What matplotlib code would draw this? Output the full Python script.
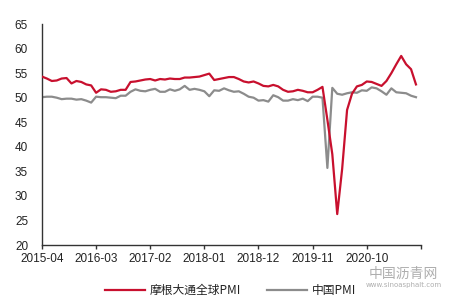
import matplotlib
matplotlib.use("Agg")
import matplotlib.pyplot as plt
import numpy as np

# Month index 0 = 2015-04 ... 76 = 2021-08
jpm_global_pmi = [54.3, 53.9, 53.4, 53.5, 53.9, 54.0, 52.9, 53.4, 53.2, 52.7,
                  52.5, 51.0, 51.7, 51.6, 51.2, 51.3, 51.6, 51.6, 53.2, 53.3,
                  53.5, 53.7, 53.8, 53.5, 53.8, 53.7, 53.9, 53.8, 53.8, 54.1,
                  54.1, 54.2, 54.3, 54.6, 54.9, 53.6, 53.8, 54.0, 54.2, 54.2,
                  53.8, 53.3, 53.1, 53.3, 52.9, 52.4, 52.3, 52.6, 52.3, 51.6,
                  51.2, 51.3, 51.6, 51.4, 51.1, 51.1, 51.6, 52.2, 45.5, 38.5,
                  26.3, 35.5, 47.5, 50.8, 52.3, 52.6, 53.3, 53.2, 52.8, 52.4,
                  53.4, 55.0, 56.8, 58.5, 56.8, 55.8, 52.7]
china_pmi = [50.1, 50.2, 50.2, 50.0, 49.7, 49.8, 49.8, 49.6, 49.7,
             49.4, 49.0, 50.2, 50.1, 50.1, 50.0, 49.9, 50.4, 50.4, 51.2, 51.7, 51.4,
             51.3, 51.6, 51.8, 51.2, 51.2, 51.7, 51.4, 51.7, 52.4, 51.6, 51.8, 51.6,
             51.3, 50.3, 51.5, 51.4, 51.9, 51.5, 51.2, 51.3, 50.8, 50.2, 50.0, 49.4,
             49.5, 49.2, 50.5, 50.1, 49.4, 49.4, 49.7, 49.5, 49.8, 49.3, 50.2, 50.2,
             50.0, 35.7, 52.0, 50.8, 50.6, 50.9, 51.1, 51.0, 51.5, 51.4, 52.1, 51.9,
             51.3, 50.6, 51.9, 51.1, 51.0, 50.9, 50.4, 50.1]
tick_labels = ["2015-04", "2016-03", "2017-02", "2018-01", "2018-12", "2019-11", "2020-10", ""]
tick_step = 11
series_names = ["摩根大通全球PMI", "中国PMI"]

fig = plt.figure(figsize=(4.56, 3.04), dpi=100)
ax = fig.add_axes([0.092, 0.194, 0.831, 0.727])

x = np.arange(len(jpm_global_pmi))
ax.plot(x, jpm_global_pmi, color="#C8102E", lw=1.6, label=series_names[0], zorder=3)
ax.plot(np.arange(len(china_pmi)), china_pmi, color="#8C8C8C", lw=1.6, label=series_names[1], zorder=2)

ax.set_xlim(0, tick_step * (len(tick_labels) - 1))
ax.set_ylim(20, 65)
ax.set_yticks(np.arange(20, 66, 5))
ax.set_xticks(np.arange(len(tick_labels)) * tick_step)
ax.set_xticklabels(tick_labels)

for s in ["top", "right"]:
    ax.spines[s].set_visible(False)
for s in ["left", "bottom"]:
    ax.spines[s].set_color("#333333")
    ax.spines[s].set_linewidth(1.0)

ax.tick_params(axis="y", length=0, pad=10, labelsize=8.5, labelcolor="#222222")
ax.tick_params(axis="x", length=3, width=1.0, color="#333333", pad=3, labelsize=8.5, labelcolor="#222222")
for lab in ax.get_xticklabels() + ax.get_yticklabels():
    lab.set_family(["Liberation Sans", "DejaVu Sans"])

leg = fig.legend(loc="center", bbox_to_anchor=(0.505, 0.045), ncol=2, frameon=False,
                 prop={"family": ["Noto Sans CJK SC", "DejaVu Sans"], "size": 8.5},
                 handlelength=3.4, columnspacing=2.2, handletextpad=0.4)
for t in leg.get_texts():
    t.set_color("#222222")

# watermark
fig.text(0.885, 0.100, "中国沥青网", family=["Noto Sans CJK SC"], fontsize=10,
         color="#9a9a9a", alpha=0.8, ha="center", va="center")
fig.text(0.885, 0.062, "www.sinoasphalt.com", fontsize=5, color="#9a9a9a",
         alpha=0.8, ha="center", va="center")

fig.savefig("out.png", dpi=100)
